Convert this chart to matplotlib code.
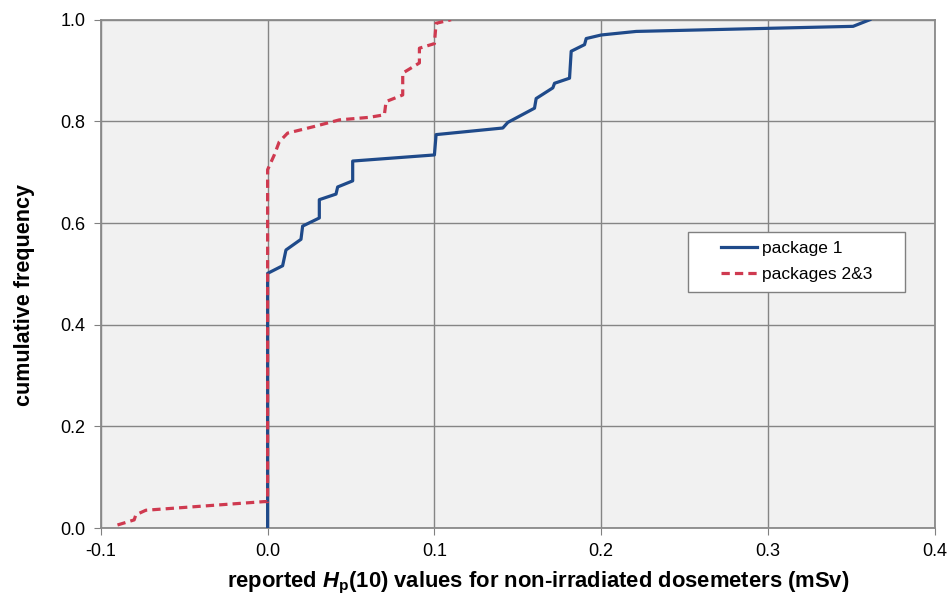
import matplotlib.pyplot as plt
from matplotlib.patches import Rectangle

# package 1
pkg1_x = [0.0, 0.0, 0.009, 0.011, 0.020, 0.021, 0.031, 0.031, 0.041, 0.042, 0.051, 0.051,
          0.100, 0.101, 0.141, 0.144, 0.160, 0.161, 0.171, 0.172, 0.181, 0.182, 0.190, 0.191,
          0.200, 0.221, 0.351, 0.361]
pkg1_y = [0.0, 0.501, 0.516, 0.547, 0.568, 0.594, 0.610, 0.646, 0.657, 0.671, 0.683, 0.722,
          0.734, 0.774, 0.787, 0.798, 0.826, 0.845, 0.866, 0.875, 0.885, 0.938, 0.951, 0.963,
          0.970, 0.977, 0.987, 1.0]

# packages 2&3
pkg23_x = [-0.090, -0.080, -0.079, -0.073, -0.002, 0.0, 0.0, 0.004, 0.007, 0.012, 0.028,
           0.043, 0.061, 0.070, 0.071, 0.081, 0.081, 0.091, 0.091, 0.100, 0.101, 0.110]
pkg23_y = [0.006, 0.016, 0.026, 0.035, 0.052, 0.052, 0.705, 0.734, 0.760, 0.777, 0.790,
           0.803, 0.808, 0.813, 0.839, 0.852, 0.895, 0.915, 0.944, 0.953, 0.993, 1.0]

x_ticks = [-0.1, 0.0, 0.1, 0.2, 0.3, 0.4]
y_ticks = [0.0, 0.2, 0.4, 0.6, 0.8, 1.0]

plt.rcParams['font.family'] = ['Liberation Sans', 'DejaVu Sans']
plt.rcParams['mathtext.fontset'] = 'custom'
plt.rcParams['mathtext.rm'] = 'Liberation Sans'
plt.rcParams['mathtext.it'] = 'Liberation Sans:italic'
plt.rcParams['mathtext.bf'] = 'Liberation Sans:bold'
plt.rcParams['mathtext.bfit'] = 'Liberation Sans:bold:italic'

fig = plt.figure(figsize=(9.51, 5.98), dpi=100)
ax = fig.add_axes([0.106, 0.117, 0.877, 0.850])
ax.set_facecolor('#f1f1f1')

ax.plot(pkg1_x, pkg1_y, color='#1f4a8a', lw=2.3, label='package 1', zorder=3)
ax.plot(pkg23_x, pkg23_y, color='#cf3a50', lw=2.3, dashes=(2.6, 1.6), label='packages 2&3', zorder=4)

ax.set_xlim(-0.1, 0.4)
ax.set_ylim(0.0, 1.0)
ax.set_xticks(x_ticks)
ax.set_yticks(y_ticks)
ax.set_xticklabels(['%.1f' % t for t in x_ticks])
ax.set_yticklabels(['%.1f' % t for t in y_ticks])
ax.tick_params(labelsize=13, direction='out', length=5, color='#808080', pad=6)
ax.grid(True, color='#858585', lw=1.0, zorder=1)
ax.set_axisbelow(True)
for s in ax.spines.values():
    s.set_color('#8a8a8a')
    s.set_linewidth(1.3)

ax.set_xlabel(r'reported $\mathbfit{H}_{\mathbf{p}}$(10) values for non-irradiated dosemeters (mSv)',
              fontsize=15.8, fontweight='bold')
ax.set_ylabel('cumulative frequency', fontsize=15.5, fontweight='bold')
ax.xaxis.set_label_coords(0.524, -0.083)
ax.yaxis.set_label_coords(-0.079, 0.459)

# legend box drawn by hand so the padding matches
ax.add_patch(Rectangle((0.704, 0.465), 0.26, 0.118, transform=ax.transAxes,
                       facecolor='white', edgecolor='#808080', lw=1.0, zorder=5))
leg = ax.legend(loc='center', bbox_to_anchor=(0.834, 0.524), frameon=False,
                fontsize=12.5, handlelength=2.1, handletextpad=0.25,
                borderpad=0.0, labelspacing=0.6)
leg.set_zorder(6)

plt.savefig('out.png', dpi=100)
